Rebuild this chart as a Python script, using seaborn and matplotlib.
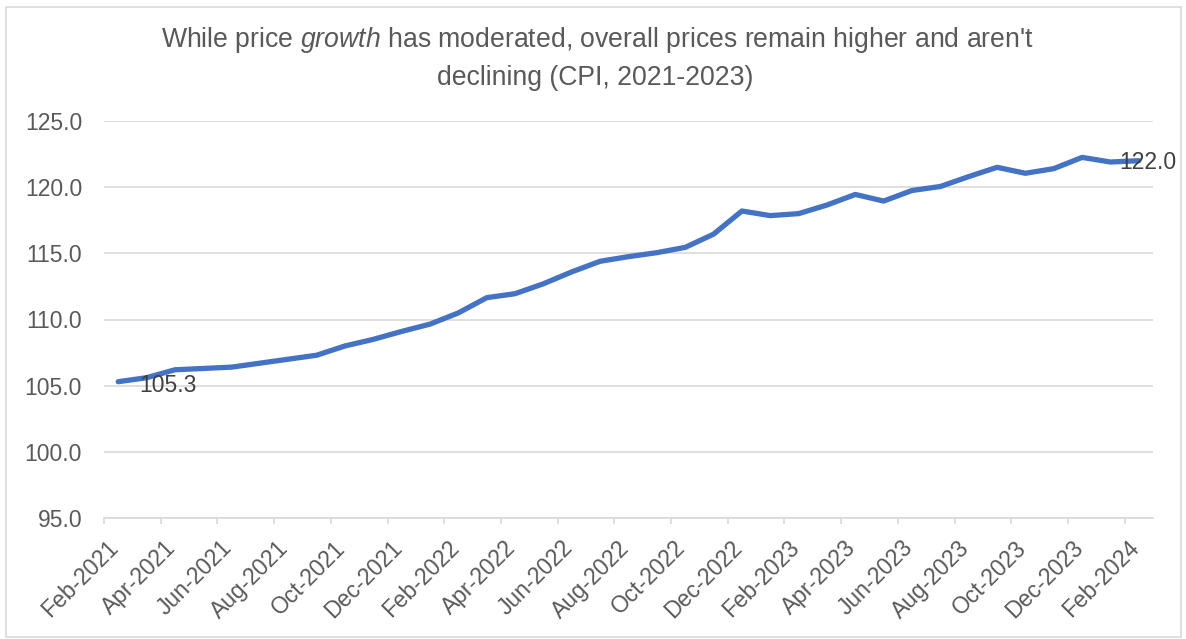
import numpy as np
import pandas as pd
import matplotlib
matplotlib.use("Agg")
import matplotlib.pyplot as plt
import matplotlib.transforms as mtransforms
from matplotlib.patches import Rectangle
import seaborn as sns

# ---- data ----
months = pd.date_range("2021-02-01", periods=37, freq="MS").strftime("%b-%Y").tolist()
cpi = [105.3, 105.6, 106.2, 106.3, 106.4, 106.7, 107.0, 107.3, 108.0, 108.5,
       109.1, 109.65, 110.5, 111.65, 111.95, 112.7, 113.6, 114.4, 114.75, 115.05,
       115.45, 116.45, 118.2, 117.85, 118.0, 118.65, 119.45, 118.95, 119.75, 120.05,
       120.8, 121.5, 121.05, 121.4, 122.25, 121.9, 122.0]
tick_labels = ["Feb-2021", "Apr-2021", "Jun-2021", "Aug-2021", "Oct-2021", "Dec-2021",
               "Feb-2022", "Apr-2022", "Jun-2022", "Aug-2022", "Oct-2022", "Dec-2022",
               "Feb-2023", "Apr-2023", "Jun-2023", "Aug-2023", "Oct-2023", "Dec-2023",
               "Feb-2024"]
y_ticks = [95.0, 100.0, 105.0, 110.0, 115.0, 120.0, 125.0]
title_line1 = r"While price $\mathit{growth}$ has moderated, overall prices remain higher and aren't"
title_line2 = "declining (CPI, 2021-2023)"

df = pd.DataFrame({"month": months, "idx": np.arange(len(cpi)), "cpi": cpi})

sns.set_theme(style="white")
plt.rcParams["font.family"] = ["Liberation Sans", "DejaVu Sans"]
plt.rcParams["mathtext.fontset"] = "custom"
plt.rcParams["mathtext.rm"] = "Liberation Sans"
plt.rcParams["mathtext.it"] = "Liberation Sans:italic"

W, H = 1186, 639
fig = plt.figure(figsize=(W / 100, H / 100), dpi=100)
left, right, top, bottom = 104, 1153, 121, 518
ax = fig.add_axes([left / W, 1 - bottom / H, (right - left) / W, (bottom - top) / H])

grid_c = "#d9d9d9"
txt_c = "#595959"
fs = 16.5

sns.lineplot(data=df, x="idx", y="cpi", ax=ax, color="#4472C4", linewidth=3.8,
             solid_joinstyle="round", solid_capstyle="round", zorder=3)

ax.set_xlim(-0.5, len(cpi) - 0.5)
ax.set_ylim(95, 125)
ax.set_xlabel("")
ax.set_ylabel("")

ax.set_yticks(y_ticks)
ax.set_yticklabels([f"{v:.1f}" for v in y_ticks], fontsize=fs, color=txt_c)
ax.tick_params(axis="y", length=0, pad=15.8)
ax.yaxis.grid(True, color=grid_c, linewidth=1.2)
ax.xaxis.grid(False)

major_x = np.arange(0, len(cpi), 2)
ax.set_xticks(major_x)
ax.set_xticklabels(tick_labels, fontsize=fs, color=txt_c, rotation=45,
                   ha="right", va="center", rotation_mode="anchor")
ax.set_xticks(major_x - 0.5, minor=True)
ax.tick_params(axis="x", which="major", length=0, pad=19)
ax.tick_params(axis="x", which="minor", length=4.3, width=1.2, color=grid_c,
               direction="out", bottom=True)
offset = mtransforms.ScaledTranslation(-3 / 100, 0, fig.dpi_scale_trans)
for lab in ax.get_xticklabels():
    lab.set_transform(lab.get_transform() + offset)

for s in ["top", "right", "left"]:
    ax.spines[s].set_visible(False)
ax.spines["bottom"].set_color(grid_c)
ax.spines["bottom"].set_linewidth(1.2)

# data labels
ax.annotate(f"{cpi[0]:.1f}", xy=(0, cpi[0]), xytext=(21, -10),
            textcoords="offset pixels", ha="left", va="baseline",
            fontsize=fs, color="#404040", zorder=4)
ax.annotate(f"{cpi[-1]:.1f}", xy=(len(cpi) - 1, cpi[-1]), xytext=(-20, -8.5),
            textcoords="offset pixels", ha="left", va="baseline",
            fontsize=fs, color="#404040", zorder=4)

# title
fig.text(597 / W, 1 - 47 / H, title_line1, ha="center", va="baseline",
         fontsize=19.2, color=txt_c)
fig.text(595 / W, 1 - 85 / H, title_line2, ha="center", va="baseline",
         fontsize=19.2, color=txt_c)

# chart border
fig.patches.append(Rectangle((5.5 / W, 1 - 637 / H), (1181 - 5.5) / W, (637 - 6.5) / H,
                             transform=fig.transFigure, fill=False,
                             edgecolor=grid_c, linewidth=1.2))

fig.savefig("out.png", dpi=100)
